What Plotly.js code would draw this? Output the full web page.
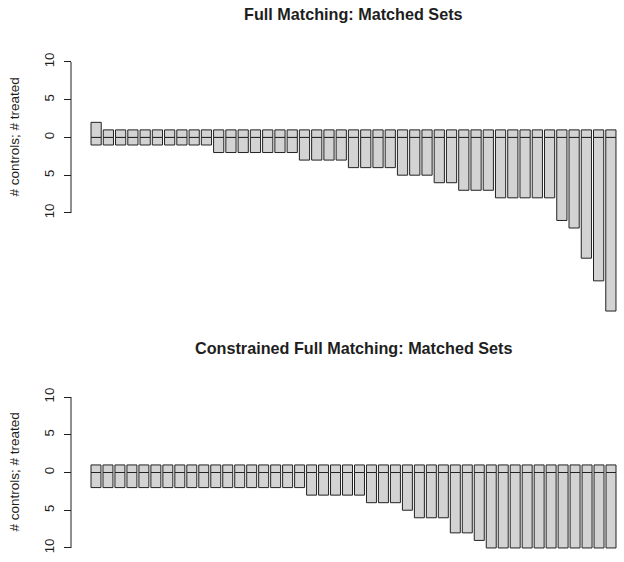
<!DOCTYPE html>
<html>
<head>
<meta charset="utf-8">
<script src="https://cdn.plot.ly/plotly-3.0.1.min.js"></script>
<style>html,body{margin:0;padding:0;background:#fff;}#chart{width:624px;height:562px;}</style>
</head>
<body>
<div id="chart"></div>
<script>
// Full matching: treated and control counts per matched set
const fullTreated  = [2,1,1,1,1,1,1,1,1,1, 1,1,1,1,1,1,1, 1,1,1,1, 1,1,1,1, 1,1,1, 1,1, 1,1,1, 1,1,1,1,1, 1,1,1,1,1];
const fullControls = [1,1,1,1,1,1,1,1,1,1, 2,2,2,2,2,2,2, 3,3,3,3, 4,4,4,4, 5,5,5, 6,6, 7,7,7, 8,8,8,8,8, 11,12,16,19,23];
// Constrained full matching
const consTreated  = [1,1,1,1,1,1,1,1,1,1,1,1,1,1,1,1,1,1, 1,1,1,1,1, 1,1,1, 1, 1,1,1, 1,1, 1, 1,1,1,1,1,1,1,1,1,1,1];
const consControls = [2,2,2,2,2,2,2,2,2,2,2,2,2,2,2,2,2,2, 3,3,3,3,3, 4,4,4, 5, 6,6,6, 8,8, 9, 10,10,10,10,10,10,10,10,10,10,10];
const tickVals = [-10,-5,0,5,10];
const tickText = ['10','5','0','5','10'];
const titles = ['Full Matching: Matched Sets','Constrained Full Matching: Matched Sets'];
const yTitle = '# controls; # treated';

const W = 624, H = 562;
const px = v => v / W;
const py = v => 1 - v / H;

const fill = '#d3d3d3', edge = '#222222', ink = '#1e1e1e';

function idx(n){ const a=[]; for(let i=1;i<=n;i++) a.push(i); return a; }

function barTraces(tr, ct, xa, ya){
  const x = idx(tr.length);
  const common = {type:'bar', x:x, xaxis:xa, yaxis:ya, hoverinfo:'skip',
    marker:{color:fill, line:{color:edge, width:1}}, showlegend:false};
  return [
    Object.assign({}, common, {y: tr}),
    Object.assign({}, common, {y: ct.map(v => -v)})
  ];
}

const data = [].concat(
  barTraces(fullTreated, fullControls, 'x', 'y'),
  barTraces(consTreated, consControls, 'x2', 'y2')
);

const yCommon = {
  tickvals: tickVals, ticktext: tickText, tickangle: -90,
  ticks: 'outside', ticklen: 7, tickwidth: 1, tickcolor: ink,
  showline: false, zeroline: false, showgrid: false,
  tickfont: {family: 'Liberation Sans, Arial, sans-serif', size: 13.3, color: ink},
  ticklabelstandoff: 5,
  anchor: 'free', position: px(71), automargin: false, fixedrange: true
};
const xCommon = {
  visible: false, showgrid: false, zeroline: false, automargin: false,
  domain: [px(90), px(617)], fixedrange: true
};

const layout = {
  width: W, height: H,
  margin: {l:0, r:0, t:0, b:0, pad:0},
  paper_bgcolor: '#fff', plot_bgcolor: 'rgba(0,0,0,0)',
  barmode: 'overlay', bargap: 0.1667,
  font: {family: 'Liberation Sans, Arial, sans-serif', color: ink},
  xaxis: Object.assign({}, xCommon, {range: [0.5, fullTreated.length + 0.5], anchor: 'y'}),
  xaxis2: Object.assign({}, xCommon, {range: [0.5, consTreated.length + 0.5], anchor: 'y2'}),
  yaxis: Object.assign({}, yCommon, {range: [-24.32, 11.32], domain: [py(321), py(52)]}),
  yaxis2: Object.assign({}, yCommon, {range: [-10.8, 10.8], domain: [py(554), py(391)]}),
  shapes: [
    {type:'line', xref:'paper', yref:'y', x0:px(71), x1:px(71), y0:-10, y1:10, line:{color:ink, width:1}},
    {type:'line', xref:'paper', yref:'y2', x0:px(71), x1:px(71), y0:-10, y1:10, line:{color:ink, width:1}}
  ],
  annotations: [
    {text: '<b>' + titles[0] + '</b>', xref:'paper', yref:'paper', x: px(353), y: py(14),
     xanchor:'center', yanchor:'middle', showarrow:false, font:{size:16.2, color:ink}},
    {text: '<b>' + titles[1] + '</b>', xref:'paper', yref:'paper', x: px(353), y: py(348),
     xanchor:'center', yanchor:'middle', showarrow:false, font:{size:16.2, color:ink}},
    {text: yTitle, xref:'paper', yref:'y', x: px(14), y: 0, textangle: -90,
     xanchor:'center', yanchor:'middle', showarrow:false, font:{size:13.5, color:ink}},
    {text: yTitle, xref:'paper', yref:'y2', x: px(14), y: 0, textangle: -90,
     xanchor:'center', yanchor:'middle', showarrow:false, font:{size:13.5, color:ink}}
  ]
};

Plotly.newPlot('chart', data, layout, {staticPlot: true, displayModeBar: false});
</script>
</body>
</html>
